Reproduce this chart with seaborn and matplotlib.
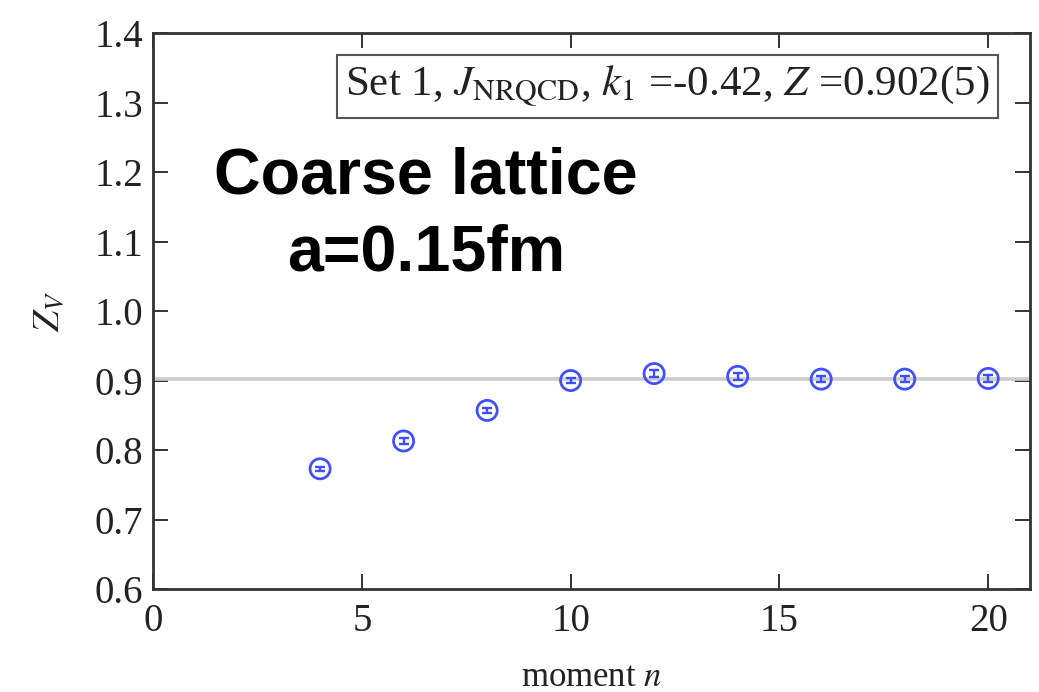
import matplotlib
matplotlib.use("Agg")
import matplotlib.pyplot as plt
import seaborn as sns
import pandas as pd

moments = [4, 6, 8, 10, 12, 14, 16, 18, 20]
zv_values = [0.773, 0.813, 0.857, 0.900, 0.910, 0.906, 0.902, 0.902, 0.903]
zv_errors = [0.003, 0.004, 0.004, 0.004, 0.005, 0.005, 0.004, 0.004, 0.005]
z_fit = 0.902
x_ticks = [0, 5, 10, 15, 20]
y_ticks = [0.6, 0.7, 0.8, 0.9, 1.0, 1.1, 1.2, 1.3, 1.4]
legend_text = r"Set 1, $J_{\mathrm{NRQCD}}$, $k_1$ =-0.42, $Z$ =0.902(5)"
annotation = "Coarse lattice\na=0.15fm"

sns.set_style("ticks")
plt.rcParams["font.family"] = ["Liberation Serif", "DejaVu Serif"]
plt.rcParams["mathtext.fontset"] = "stix"

df = pd.DataFrame({"n": moments, "zv": zv_values, "err": zv_errors})

fig = plt.figure(figsize=(10.39, 6.92), dpi=100)
ax = fig.add_axes([0.1473, 0.1488, 0.844, 0.8035])

ax.axhline(z_fit, color="#cccccc", lw=2.6, zorder=1)
ax.errorbar(df["n"], df["zv"], yerr=df["err"], fmt="none", ecolor="#3d4dff",
            elinewidth=1.7, capsize=3.8, capthick=1.7, zorder=2)
sns.scatterplot(data=df, x="n", y="zv", ax=ax, marker="o", s=210,
                facecolor="none", edgecolor="#4050ff", linewidth=2.0, zorder=3)

ax.set_xlim(0, 21)
ax.set_ylim(0.6, 1.4)
ax.set_xticks(x_ticks)
ax.set_yticks(y_ticks)
ax.set_yticklabels([f"{v:.1f}" for v in y_ticks])
ax.tick_params(direction="in", length=11, width=1.4, labelsize=28,
               top=True, right=True, colors="#333333", labelcolor="#222222")
ax.tick_params(axis="y", pad=7)
ax.tick_params(axis="x", pad=10)
for sp in ax.spines.values():
    sp.set_linewidth(2.0)
    sp.set_color("#333333")
    sp.set_visible(True)

ax.set_xlabel(r"moment $n$", fontsize=25, color="#222222", labelpad=15)
ax.set_ylabel(r"$Z_V$", fontsize=27, color="#222222", labelpad=20)

ax.text(0.954, 0.904, legend_text, transform=ax.transAxes, ha="right", va="center",
        fontsize=31, color="#222222",
        bbox=dict(boxstyle="square,pad=0.2", facecolor="white", edgecolor="#555555", lw=1.5))

fig.text(0.41, 0.689, annotation, ha="center", va="center", fontsize=46.5,
         fontweight="bold", family=["Liberation Sans", "DejaVu Sans"],
         color="black", linespacing=1.35)

fig.savefig("out.png", dpi=100)
